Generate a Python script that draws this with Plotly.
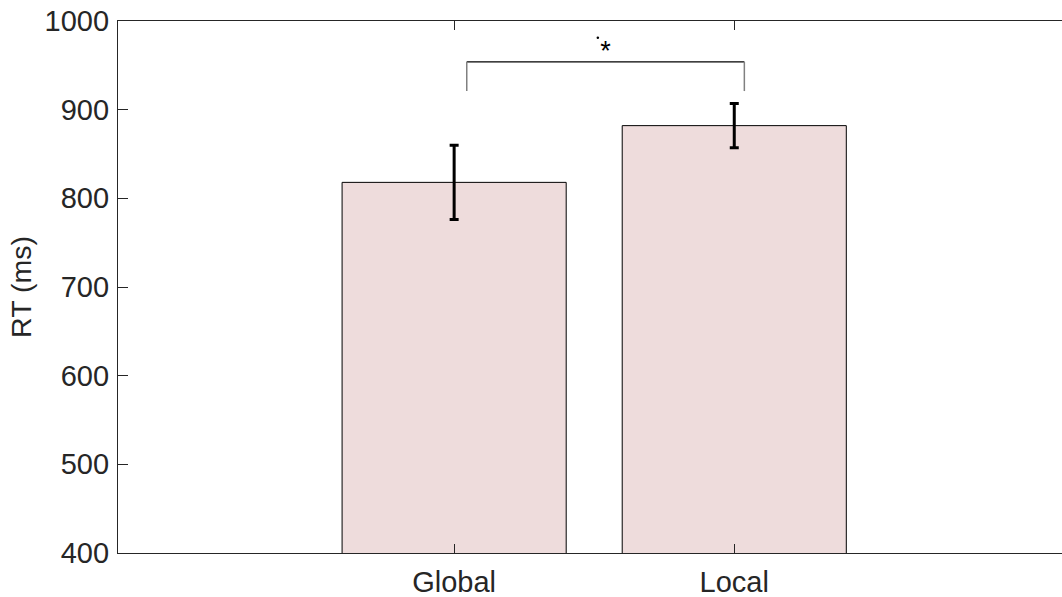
import plotly.graph_objects as go

# ---- data ----
categories = ["Global", "Local"]
x_pos = [1, 2]
rt_means = [818, 882]
rt_errors = [42, 25]
y_ticks = [400, 500, 600, 700, 800, 900, 1000]

# significance bracket (data units)
bracket_x = [1.045, 2.036]
bracket_top = 954
bracket_bottom = 921
star_x = 1.54
star_y = 964
dot_x = 1.513
dot_y = 981

AXIS_COLOR = "#262626"
FONT = "Liberation Sans, Arial, sans-serif"
FS = 29

fig = go.Figure()
fig.add_trace(go.Bar(
    x=x_pos, y=rt_means, width=0.8,
    marker=dict(color="#EEDCDC", line=dict(color="black", width=1)),
    error_y=dict(type="data", array=rt_errors, color="black", thickness=3, width=4.5),
    showlegend=False,
))

# bracket
fig.add_trace(go.Scatter(
    x=[bracket_x[0], bracket_x[1]], y=[bracket_top, bracket_top],
    mode="lines", line=dict(color="black", width=1.3), showlegend=False, hoverinfo="skip"))
for bx in bracket_x:
    fig.add_trace(go.Scatter(
        x=[bx, bx], y=[bracket_top, bracket_bottom],
        mode="lines", line=dict(color="#808080", width=1.5), showlegend=False, hoverinfo="skip"))
fig.add_trace(go.Scatter(
    x=[star_x], y=[star_y], mode="text", text=["*"],
    textfont=dict(family=FONT, size=27, color="black"), showlegend=False, hoverinfo="skip"))
fig.add_trace(go.Scatter(
    x=[dot_x], y=[dot_y], mode="markers", marker=dict(color="black", size=2.5),
    showlegend=False, hoverinfo="skip"))

fig.update_layout(
    width=1062, height=597,
    margin=dict(l=118, r=0, t=21, b=44),
    paper_bgcolor="white", plot_bgcolor="white",
    font=dict(family=FONT, size=FS, color=AXIS_COLOR),
    bargap=0.2,
)
fig.update_xaxes(
    range=[-0.2, 3.17],
    tickmode="array", tickvals=x_pos, ticktext=categories,
    showline=True, linecolor=AXIS_COLOR, linewidth=1.2, mirror="ticks",
    ticks="inside", ticklen=9, tickcolor=AXIS_COLOR, tickwidth=1,
    showgrid=False, zeroline=False,
    tickfont=dict(family=FONT, size=FS, color=AXIS_COLOR),
    ticklabelstandoff=3,
)
fig.update_yaxes(
    range=[400, 1000],
    tickmode="array", tickvals=y_ticks,
    showline=True, linecolor=AXIS_COLOR, linewidth=1.2, mirror=False,
    ticks="inside", ticklen=10, tickcolor=AXIS_COLOR, tickwidth=1,
    showgrid=False, zeroline=False,
    tickfont=dict(family=FONT, size=FS, color=AXIS_COLOR),
    title=dict(text="RT (ms)", font=dict(family=FONT, size=28.5, color=AXIS_COLOR), standoff=4),
    ticklabelstandoff=2,
)

fig.write_html(
    "out.html",
    config={"displayModeBar": False},
    post_script="document.body.style.margin='0px';document.body.style.padding='0px';document.body.style.overflow='hidden';",
)
